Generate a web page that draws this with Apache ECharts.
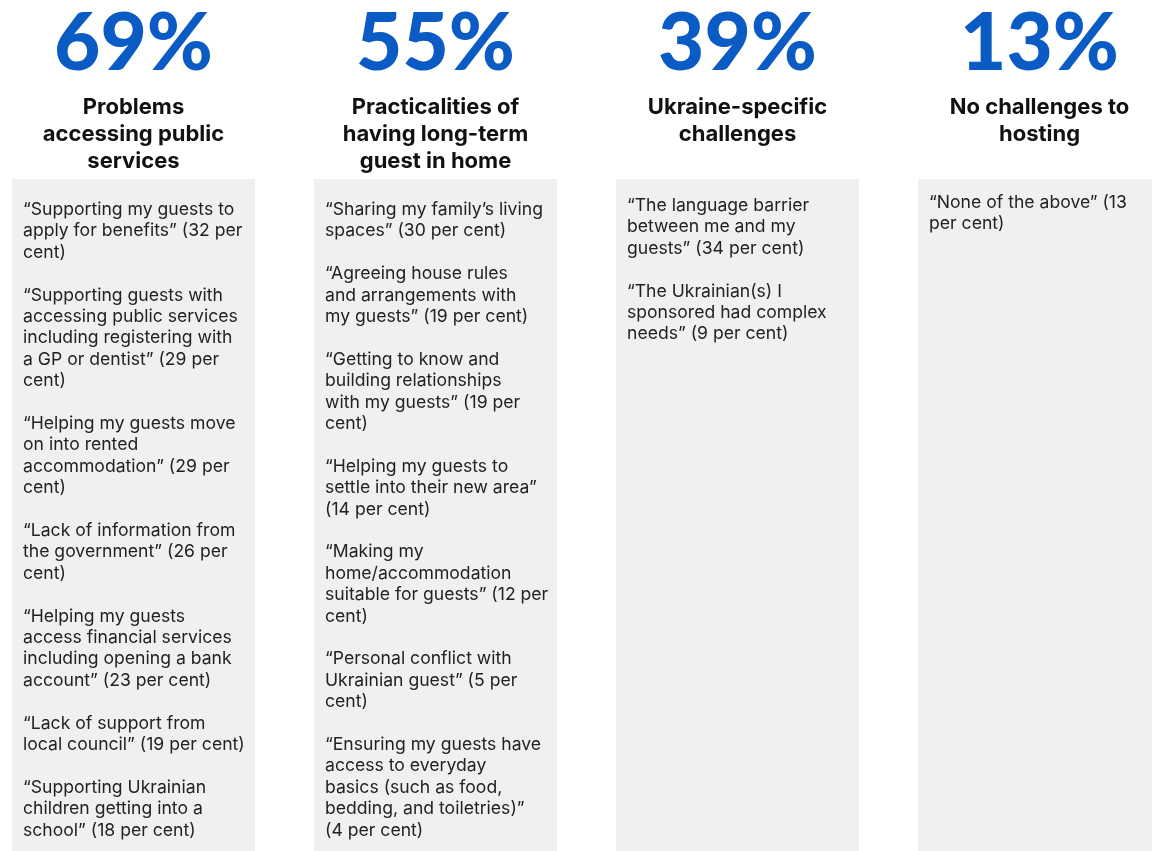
<!DOCTYPE html>
<html><head><meta charset="utf-8">
<script src="https://cdn.jsdelivr.net/npm/echarts@6/dist/echarts.min.js"></script>
<style>html,body{margin:0;padding:0;background:#fff}#c{width:1152px;height:851px}</style>
</head><body><div id="c"></div>
<script>
// ---- data ----
const percents = [69, 55, 39, 13];
const titles = [
  'Problems\naccessing public\nservices',
  'Practicalities of\nhaving long-term\nguest in home',
  'Ukraine-specific\nchallenges',
  'No challenges to\nhosting'
];
const itemsCol1 = [
  '“Supporting my guests to\napply for benefits” (32 per\ncent)',
  '“Supporting guests with\naccessing public services\nincluding registering with\na GP or dentist” (29 per\ncent)',
  '“Helping my guests move\non into rented\naccommodation” (29 per\ncent)',
  '“Lack of information from\nthe government” (26 per\ncent)',
  '“Helping my guests\naccess financial services\nincluding opening a bank\naccount” (23 per cent)',
  '“Lack of support from\nlocal council” (19 per cent)',
  '“Supporting Ukrainian\nchildren getting into a\nschool” (18 per cent)'
];
const itemsCol2 = [
  '“Sharing my family’s living\nspaces” (30 per cent)',
  '“Agreeing house rules\nand arrangements with\nmy guests” (19 per cent)',
  '“Getting to know and\nbuilding relationships\nwith my guests” (19 per\ncent)',
  '“Helping my guests to\nsettle into their new area”\n(14 per cent)',
  '“Making my\nhome/accommodation\nsuitable for guests” (12 per\ncent)',
  '“Personal conflict with\nUkrainian guest” (5 per\ncent)',
  '“Ensuring my guests have\naccess to everyday\nbasics (such as food,\nbedding, and toiletries)”\n(4 per cent)'
];
const itemsCol3 = [
  '“The language barrier\nbetween me and my\nguests” (34 per cent)',
  '“The Ukrainian(s) I\nsponsored had complex\nneeds” (9 per cent)'
];
const itemsCol4 = [
  '“None of the above” (13\nper cent)'
];
const columnItems = [itemsCol1, itemsCol2, itemsCol3, itemsCol4];

// ---- layout ----
const BLUE = '#0a5bc4';
const FONT = 'Inter, Lato, "DejaVu Sans", sans-serif';
const NUMFONT = 'Lato, Inter, sans-serif';
const bodyTop = [199, 199, 195, 192];

const chart = echarts.init(document.getElementById('c'));
chart.setOption({
  backgroundColor: '#ffffff',
  animation: false,
  grid: { left: 0, right: 0, top: 0, bottom: 0 },
  xAxis: { type: 'value', min: -133.5 / 302, max: -133.5 / 302 + 1152 / 302, show: false },
  yAxis: { type: 'value', min: 0, max: 851, inverse: true, show: false },
  series: [{
    type: 'custom',
    data: percents.map((p, i) => [i, p]),
    renderItem: function (params, api) {
      const i = api.value(0);
      const cx = api.coord([i, 0])[0];
      const w = api.size([243 / 302, 0])[0];
      const left = cx - w / 2;
      const yTop = api.coord([0, 179])[1];
      const yBot = api.coord([0, 851])[1];
      return {
        type: 'group',
        children: [
          { type: 'rect', shape: { x: left, y: yTop, width: (i === 3 ? 1152 - left : w), height: yBot - yTop },
            style: { fill: '#f0f0f0' } },
          { type: 'text', style: { text: api.value(1) + '%', x: cx, y: 44, align: 'center', verticalAlign: 'middle',
              fill: BLUE, fontFamily: NUMFONT, fontWeight: 900, fontSize: 80 } },
          { type: 'text', style: { text: titles[i], x: cx, y: 94, align: 'center', verticalAlign: 'top',
              fill: '#111', fontFamily: FONT, fontWeight: 'bold', fontSize: 22, lineHeight: 27 } },
          { type: 'text', style: { text: columnItems[i].join('\n\n'), x: left + 11, y: bodyTop[i], align: 'left', verticalAlign: 'top',
              fill: '#222', fontFamily: FONT, fontSize: 17.6, lineHeight: 21.4 } }
        ]
      };
    }
  }]
});
</script></body></html>
